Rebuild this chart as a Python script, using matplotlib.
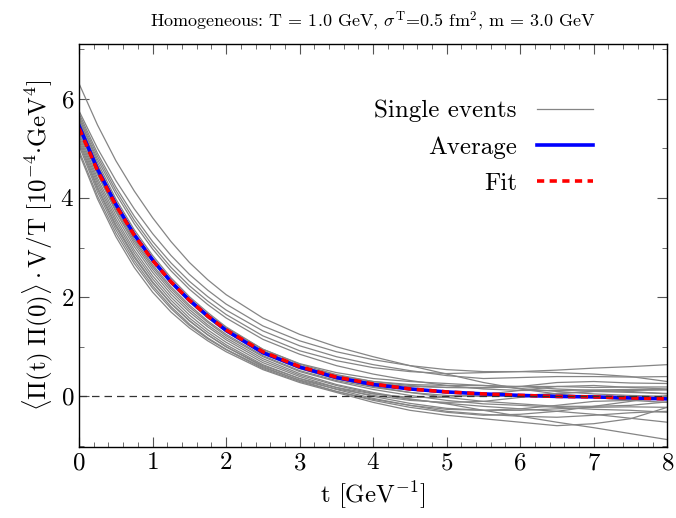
import numpy as np
import matplotlib
matplotlib.use("Agg")
import matplotlib.pyplot as plt
from matplotlib.ticker import MultipleLocator

plt.rcParams['font.family'] = 'serif'
plt.rcParams['font.serif'] = ['cmr10']
plt.rcParams['mathtext.fontset'] = 'cm'
plt.rcParams['axes.formatter.use_mathtext'] = True

# time grid (GeV^-1)
t = [0.0, 0.25, 0.5, 0.75, 1.0, 1.25, 1.5, 1.75, 2.0, 2.5, 3.0, 3.5, 4.0, 4.5, 5.0, 5.5, 6.0, 6.5, 7.0, 7.5, 8.0]

# single events
events = [
    [6.30, 5.47, 4.75, 4.14, 3.60, 3.12, 2.70, 2.35, 2.05, 1.58, 1.25, 1.00, 0.80, 0.62, 0.45, 0.28, 0.15, 0.05, -0.02, -0.08, -0.12],
    [5.75, 5.00, 4.35, 3.78, 3.28, 2.84, 2.46, 2.14, 1.86, 1.42, 1.12, 0.90, 0.74, 0.62, 0.54, 0.50, 0.50, 0.53, 0.57, 0.60, 0.64],
    [5.70, 4.90, 4.22, 3.63, 3.12, 2.69, 2.32, 2.01, 1.74, 1.32, 1.02, 0.80, 0.64, 0.52, 0.42, 0.36, 0.38, 0.40, 0.40, 0.39, 0.40],
    [5.65, 4.84, 4.15, 3.55, 3.04, 2.60, 2.23, 1.92, 1.65, 1.22, 0.92, 0.72, 0.58, 0.50, 0.46, 0.48, 0.50, 0.48, 0.45, 0.40, 0.30],
    [5.60, 4.78, 4.08, 3.48, 2.97, 2.53, 2.16, 1.85, 1.58, 1.15, 0.85, 0.62, 0.45, 0.32, 0.22, 0.15, 0.12, 0.12, 0.13, 0.14, 0.14],
    [5.60, 4.72, 3.98, 3.36, 2.84, 2.39, 2.01, 1.69, 1.40, 0.95, 0.65, 0.44, 0.30, 0.22, 0.18, 0.17, 0.20, 0.28, 0.30, 0.27, 0.26],
    [5.55, 4.66, 3.92, 3.30, 2.78, 2.33, 1.96, 1.64, 1.36, 0.92, 0.62, 0.42, 0.30, 0.24, 0.22, 0.22, 0.20, 0.15, 0.12, 0.10, 0.05],
    [5.50, 4.62, 3.89, 3.27, 2.75, 2.31, 1.94, 1.62, 1.34, 0.90, 0.60, 0.40, 0.27, 0.20, 0.18, 0.18, 0.20, 0.20, 0.18, 0.19, 0.19],
    [5.45, 4.58, 3.85, 3.23, 2.71, 2.27, 1.90, 1.58, 1.30, 0.86, 0.56, 0.35, 0.20, 0.08, -0.02, -0.10, -0.15, -0.20, -0.20, -0.18, -0.11],
    [5.40, 4.52, 3.79, 3.17, 2.65, 2.21, 1.84, 1.52, 1.25, 0.82, 0.52, 0.32, 0.18, 0.08, 0.02, 0.00, 0.02, 0.06, 0.10, 0.12, 0.13],
    [5.35, 4.48, 3.75, 3.13, 2.61, 2.17, 1.80, 1.49, 1.22, 0.80, 0.50, 0.30, 0.14, 0.02, -0.08, -0.15, -0.18, -0.22, -0.26, -0.28, -0.32],
    [5.45, 4.60, 3.88, 3.27, 2.76, 2.32, 1.96, 1.65, 1.38, 0.95, 0.66, 0.48, 0.36, 0.30, 0.26, 0.22, 0.16, 0.10, 0.05, 0.02, 0.00],
    [5.40, 4.48, 3.72, 3.08, 2.56, 2.12, 1.75, 1.44, 1.18, 0.76, 0.46, 0.24, 0.08, -0.05, -0.15, -0.28, -0.40, -0.52, -0.63, -0.75, -0.87],
    [5.30, 4.40, 3.65, 3.02, 2.50, 2.06, 1.70, 1.40, 1.14, 0.72, 0.43, 0.22, 0.06, -0.06, -0.14, -0.20, -0.25, -0.30, -0.36, -0.44, -0.52],
    [5.25, 4.34, 3.58, 2.95, 2.43, 2.00, 1.64, 1.34, 1.09, 0.68, 0.40, 0.18, 0.00, -0.14, -0.24, -0.28, -0.28, -0.25, -0.22, -0.21, -0.22],
    [5.20, 4.28, 3.52, 2.89, 2.37, 1.94, 1.58, 1.29, 1.04, 0.64, 0.36, 0.14, -0.04, -0.18, -0.30, -0.36, -0.40, -0.42, -0.38, -0.33, -0.30],
    [5.15, 4.22, 3.46, 2.83, 2.31, 1.88, 1.53, 1.24, 1.00, 0.60, 0.32, 0.10, -0.08, -0.22, -0.32, -0.38, -0.36, -0.30, -0.20, -0.10, 0.02],
    [5.10, 4.18, 3.42, 2.80, 2.29, 1.87, 1.52, 1.24, 1.00, 0.62, 0.36, 0.18, 0.05, -0.02, -0.02, 0.04, 0.12, 0.20, 0.22, 0.18, 0.15],
    [5.05, 4.12, 3.36, 2.74, 2.23, 1.81, 1.46, 1.18, 0.95, 0.58, 0.33, 0.15, 0.02, -0.08, -0.12, -0.10, -0.02, 0.06, 0.10, 0.08, 0.06],
    [4.95, 4.04, 3.29, 2.68, 2.18, 1.77, 1.43, 1.16, 0.94, 0.56, 0.30, 0.10, -0.06, -0.18, -0.26, -0.28, -0.25, -0.18, -0.10, -0.08, -0.05],
    [4.90, 3.98, 3.22, 2.60, 2.10, 1.70, 1.38, 1.12, 0.90, 0.54, 0.28, 0.08, -0.12, -0.28, -0.38, -0.45, -0.52, -0.59, -0.55, -0.45, -0.22],
]

average = [5.45, 4.58, 3.87, 3.26, 2.75, 2.31, 1.94, 1.62, 1.33, 0.88, 0.59, 0.38, 0.24, 0.15, 0.09, 0.05, 0.02, 0.00, -0.01, -0.03, -0.05]
fit = [5.40, 4.55, 3.85, 3.25, 2.74, 2.31, 1.94, 1.62, 1.34, 0.90, 0.60, 0.39, 0.25, 0.15, 0.09, 0.05, 0.02, 0.00, -0.01, -0.03, -0.05]

fig = plt.figure(figsize=(6.76, 5.18), dpi=100)
ax = fig.add_axes([0.117, 0.137, 0.870, 0.778])

for i, ev in enumerate(events):
    ax.plot(t, ev, color='#858585', lw=0.9, label='Single events' if i == 0 else None)
ax.plot(t, average, color='blue', lw=2.6, label='Average')
ax.plot(t, fit, color='red', lw=2.6, ls=(0, (2.0, 1.5)), label='Fit')
ax.axhline(0, color='#333333', lw=0.9, ls=(0, (6, 4)))

ax.set_xlim(0, 8)
ax.set_ylim(-1.02, 7.1)
ax.xaxis.set_major_locator(MultipleLocator(1))
ax.xaxis.set_minor_locator(MultipleLocator(0.2))
ax.yaxis.set_major_locator(MultipleLocator(2))
ax.yaxis.set_minor_locator(MultipleLocator(1))
ax.tick_params(which='both', direction='in', top=True, right=True, labelsize=18, color='#555555')
ax.tick_params(which='major', length=7)
ax.tick_params(which='minor', length=3.5)
for s in ax.spines.values():
    s.set_linewidth(1.0)

ax.set_xlabel(r't [GeV$^{-1}$]', fontsize=18)
ax.set_ylabel(r'$\langle \Pi(\mathrm{t})\;\Pi(0)\rangle \cdot \mathrm{V/T}\ [10^{-4}{\cdot}\mathrm{GeV}^4]$', fontsize=18)
ax.set_title(r'Homogeneous: T = 1.0 GeV, $\sigma^{\mathrm{T}}$=0.5 fm$^2$, m = 3.0 GeV', fontsize=13, pad=12)

ax.legend(loc='upper right', bbox_to_anchor=(0.912, 0.917), frameon=False, markerfirst=False,
          fontsize=18, handlelength=2.24, labelspacing=0.55, handletextpad=0.8)

fig.savefig('out.png', dpi=100)
